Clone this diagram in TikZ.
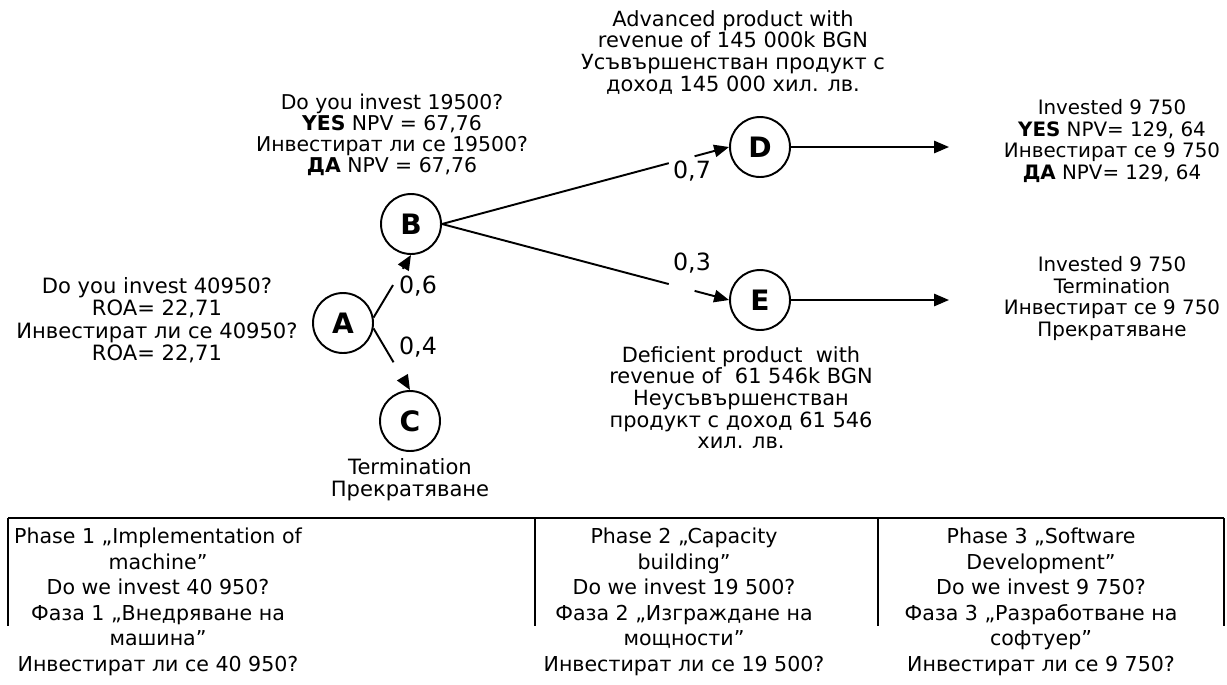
\documentclass[tikz,border=0pt]{standalone}
\usepackage{fontspec}
\setmainfont{DejaVu Sans}
\usetikzlibrary{arrows.meta,calc,positioning}
\newcommand{\Yes}{\textbf{YES}}
\newcommand{\Da}{\textbf{ДА}}
\newcommand{\bigtxt}{\fontsize{11.7}{14.5}\selectfont}
\newcommand{\leftxt}{\fontsize{12}{12.8}\selectfont}
\newcommand{\midtxt}{\fontsize{11.6}{11.9}\selectfont}
\newcommand{\smalltxt}{\fontsize{11.9}{12.3}\selectfont}
\newcommand{\rightxt}{\fontsize{11.3}{12.3}\selectfont}
% edge with a gap in it, from #1 to #2, cut between #3 and #4
\newcommand{\splitedge}[4]{%
	\draw[wire] (#1) -- ($(#1)!#3!(#2)$);
	\draw[wire,->] ($(#1)!#4!(#2)$) -- (#2);}
\tikzstyle{chance} = [circle,draw,line width=1.1pt,minimum size=1.2cm,inner sep=0pt, font=\fontsize{16}{16}\selectfont\bfseries]
\tikzstyle{info} = [align=center,inner sep=0pt,anchor=north]
\tikzstyle{prob} = [inner sep=0pt, font=\fontsize{13.5}{13.5}\selectfont]
\tikzstyle{wire} = [line width=1.1pt]

\begin{document}
\begin{tikzpicture}[x=0.02cm,y=-0.02cm,>={Triangle[length=8.5pt,width=7pt]}]
\useasboundingbox (0,0) rectangle (1227,684);

% Define nodes
\node[chance] (A) at (343,323) {A};
\node[chance] (B) at (411,224) {B};
\node[chance] (C) at (410,421) {C};
\node[chance] (D) at (760,147) {D};
\node[chance] (E) at (760,300) {E};
\coordinate (endD) at (949,147);
\coordinate (endE) at (949,300);

% Texts
\node[info, font=\leftxt] (tA) at (157,277) {Do you invest 40950?\\ROA= 22,71\\Инвестират ли се 40950?\\ROA= 22,71};
\node[info, font=\midtxt] (tB) at (392,94) {Do you invest 19500?\\\Yes{} NPV = 67,76\\Инвестират ли се 19500?\\\Da{} NPV = 67,76};
\node[info, font=\leftxt] (tC) at (410,458) {Termination\\Прекратяване};
\node[info, font=\smalltxt] (tD) at (733,10) {Advanced product with\\revenue of 145 000k BGN\\Усъвършенстван продукт с\\доход 145 000 хил. лв.};
\node[info, font=\smalltxt] (tE) at (741,346) {Deficient product\ \ with\\revenue of\ \ 61 546k BGN\\Неусъвършенстван\\продукт с доход 61 546\\хил. лв.};
\node[info, font=\rightxt] (tYes) at (1112,99) {Invested 9 750\\\Yes{} NPV= 129, 64\\Инвестират се 9 750\\\Da{} NPV= 129, 64};
\node[info, font=\rightxt] (tNo) at (1112,256) {Invested 9 750\\Termination\\Инвестират се 9 750\\Прекратяване};

% Probabilities
\node[prob] (p6) at (418,286) {0,6};
\node[prob] (p4) at (418,347) {0,4};
\node[prob] (p7) at (692,171) {0,7};
\node[prob] (p3) at (692,263) {0,3};

% Edges
\splitedge{A.10}{B.south}{.52}{.78}
\splitedge{A.-10}{C.north}{.55}{.84}
\splitedge{B.east}{D.west}{.79}{.88}
\splitedge{B.east}{E.west}{.79}{.88}
\draw[wire,->] (D) -- (endD);
\draw[wire,->] (E) -- (endE);

% Phases
\draw[wire] (8,518) -- (1224,518);
\foreach \x in {8,535,878,1224}
	\draw[wire] (\x,518) -- (\x,626);
\node[info, font=\bigtxt] (ph1) at (158,528) {Phase 1 „Implementation of\\machine”\\Do we invest 40 950?\\Фаза 1 „Внедряване на\\машина”\\Инвестират ли се 40 950?};
\node[info, font=\bigtxt] (ph2) at (684,528) {Phase 2 „Capacity\\building”\\Do we invest 19 500?\\Фаза 2 „Изграждане на\\мощности”\\Инвестират ли се 19 500?};
\node[info, font=\bigtxt] (ph3) at (1041,528) {Phase 3 „Software\\Development”\\Do we invest 9 750?\\Фаза 3 „Разработване на\\софтуер”\\Инвестират ли се 9 750?};
\end{tikzpicture}
\end{document}
